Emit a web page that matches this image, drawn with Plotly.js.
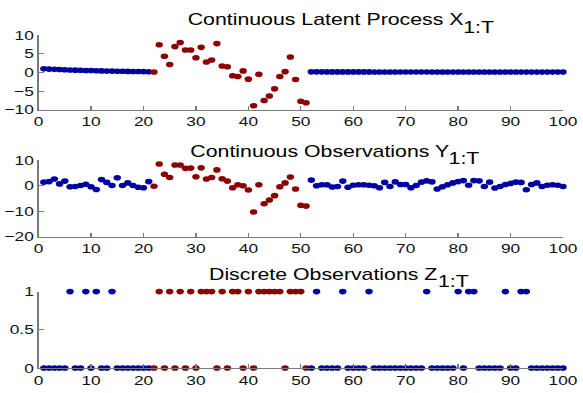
<!DOCTYPE html>
<html><head><meta charset="utf-8">
<script src="https://cdn.plot.ly/plotly-3.0.1.min.js"></script>
<style>
html,body{margin:0;padding:0;overflow:hidden;background:#fff;width:583px;height:393px}
#chart{width:438px;height:393px;transform:scaleX(1.33105);transform-origin:0 0;}
</style>
</head><body><div id="chart"></div>
<script>
// ---- data ----
const switchStart = 22, switchEnd = 51;
const latentX = [
  0.95,0.88,0.82,0.76,0.7,0.65,0.6,0.56,0.52,0.48,0.44,0.41,0.38,0.35,0.32,0.3,0.27,0.25,0.23,0.21,0.19,
  0.1,7.4,4.3,2.1,6.9,8.0,6.0,6.0,3.9,6.7,2.8,3.3,7.7,1.7,1.5,-0.9,-1.1,0.4,-1.8,-8.9,-0.5,-7.5,-6.3,-4.4,-1.1,0.2,4.1,-1.9,-7.7,-8.1,
  0.15,0.15,0.15,0.14,0.14,0.14,0.14,0.13,0.13,0.13,
  0.13,0.13,0.12,0.12,0.12,0.12,0.12,0.11,0.11,0.11,
  0.11,0.11,0.11,0.1,0.1,0.1,0.1,0.1,0.1,0.1,
  0.1,0.09,0.09,0.09,0.09,0.09,0.09,0.09,0.09,0.09,
  0.08,0.08,0.08,0.08,0.08,0.08,0.08,0.08,0.08
];
const obsY = [
  1.4,1.6,2.6,0.7,1.8,-0.4,-0.3,0.1,0.6,-0.4,-1.5,2.4,1.3,0.1,3.1,0.1,1.1,0.1,-0.6,-0.8,1.6,
  -0.2,8.5,4.5,3.2,8.1,8.1,6.8,6.9,3.5,7.0,2.6,3.2,6.2,2.7,1.8,-0.8,0.4,0,-1.7,-10.3,0.4,-7.1,-5.6,-3.9,-0.4,1.1,3.4,-1.3,-7.7,-8.0,
  2.2,0,0.4,0.4,-0.5,-0.3,1.8,-0.6,0.2,0.4,
  0.4,0.2,0,-0.8,1.3,-0.3,1.5,0.5,0.5,-0.8,
  0.1,1.4,1.9,1.5,-1.3,-0.4,0.4,1.1,1.6,2.0,
  0.2,2.0,1.9,-0.3,1.4,-0.9,-0.3,0.5,0.9,1.4,
  1.3,-1.6,0.5,1.1,-0.3,0.2,0.4,0.2,-0.3
];
const discreteZ = [
  0,0,0,0,0,1,0,0,1,0,1,0,0,1,0,0,0,0,0,0,0,
  0,1,0,1,0,1,0,1,0,1,1,1,0,1,0,1,1,0,1,0,1,1,1,1,1,0,1,1,1,0,
  0,1,0,0,0,0,1,0,0,0,
  0,1,0,0,0,0,0,0,0,0,
  0,0,1,0,0,0,0,0,1,0,
  1,1,0,0,0,0,0,1,0,0,
  1,1,0,0,0,0,0,0,0
];
const mainTitles = ['Continuous Latent Process X','Continuous Observations Y','Discrete Observations Z'];
const subTitle = '1:T';
const yTickVals = [[-10,-5,0,5,10],[-20,-10,0,10],[0,0.5,1]];
const yRanges = [[-10,10],[-20,10],[0,1]];
const xTickVals = [0,10,20,30,40,50,60,70,80,90,100];

// ---- style ----
const BLUE = '#0000a0', RED = '#8c0000';
const W = 438, S = 583/438;
const L = 38/S, R = 20/S, TOP = 34.5, BOT = 393-368.3;
const PW = W - L - R, PH = 393 - TOP - BOT;
const px = xa => (xa/S - L)/PW;
const py = ya => (368.3 - ya)/PH;

const t = latentX.map((_, i) => i + 1);
const colors = t.map(v => (v >= switchStart && v <= switchEnd) ? RED : BLUE);
const series = [latentX, obsY, discreteZ];

const traces = series.map((s, k) => ({
  x: t, y: s, type: 'scatter', mode: 'markers',
  xaxis: k === 0 ? 'x' : 'x' + (k+1), yaxis: k === 0 ? 'y' : 'y' + (k+1),
  marker: {color: colors, size: 5.6, line: {width: 0}},
  cliponaxis: false, hoverinfo: 'none', showlegend: false
}));

const axBase = {
  showline: true, linecolor: '#7a7a7a', linewidth: 1, ticks: 'inside', ticklen: 4,
  tickcolor: '#7a7a7a', tickwidth: 1, showgrid: false, zeroline: false, mirror: false,
  tickfont: {family: 'Liberation Sans, Arial, sans-serif', size: 13, color: '#111'}
};
const domains = [[py(109.5), 1], [py(236.7), py(160)], [0, py(291.7)]];

const layout = {
  width: W, height: 393, paper_bgcolor: '#fff', plot_bgcolor: 'rgba(0,0,0,0)',
  margin: {l: L, r: R, t: TOP, b: BOT, pad: 0},
  font: {family: 'Liberation Sans, Arial, sans-serif', color: '#111'},
  annotations: []
};
for (let k = 0; k < 3; k++) {
  const xs = k === 0 ? 'xaxis' : 'xaxis' + (k+1);
  const ys = k === 0 ? 'yaxis' : 'yaxis' + (k+1);
  layout[xs] = Object.assign({}, axBase, {range: [0, 100], tickvals: xTickVals,
    anchor: k === 0 ? 'y' : 'y' + (k+1), domain: [0, 1]});
  layout[ys] = Object.assign({}, axBase, {range: yRanges[k], tickvals: yTickVals[k],
    anchor: k === 0 ? 'x' : 'x' + (k+1), domain: domains[k]});
}
const titlePos = [
  {mx: 185.7, my: 19, sx: 461.7, sy: 26.7},
  {mx: 188.3, my: 151, sx: 446.7, sy: 158},
  {mx: 207.3, my: 274.3, sx: 436.7, sy: 281.7}
];
titlePos.forEach((p, k) => {
  layout.annotations.push({text: mainTitles[k], xref: 'paper', yref: 'paper',
    x: px(p.mx), y: py(p.my), xanchor: 'left', yanchor: 'middle', showarrow: false,
    borderpad: 0, font: {size: 16, color: '#000', family: 'Liberation Sans, Arial, sans-serif'}});
  layout.annotations.push({text: subTitle, xref: 'paper', yref: 'paper',
    x: px(p.sx), y: py(p.sy), xanchor: 'left', yanchor: 'middle', showarrow: false,
    borderpad: 0, font: {size: 16, color: '#000', family: 'Liberation Sans, Arial, sans-serif'}});
});

Plotly.newPlot('chart', traces, layout, {staticPlot: true, displayModeBar: false});
</script>
</body></html>
